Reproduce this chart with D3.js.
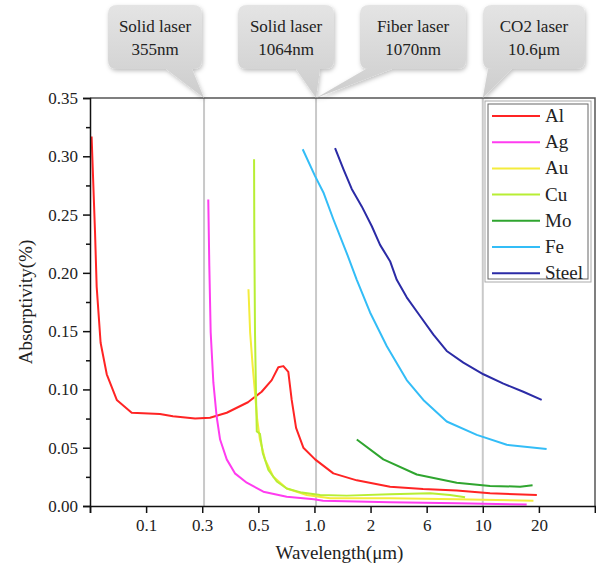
<!DOCTYPE html>
<html>
<head>
<meta charset="utf-8">
<script src="https://cdn.jsdelivr.net/npm/d3@7"></script>
<style>
  body { margin: 0; background: #fff; }
  text { font-family: "Liberation Serif", "Times New Roman", serif; fill: #222; }
</style>
</head>
<body>
<div id="chart"></div>
<script>
// axis breakpoints (µm); ticks are evenly spaced on the axis
var xBreaks = [0.05, 0.1, 0.3, 0.5, 1, 2, 6, 10, 20, 40];
var xLabels = ['', '0.1', '0.3', '0.5', '1.0', '2', '6', '10', '20', ''];
var yTicks = [0, 0.05, 0.10, 0.15, 0.20, 0.25, 0.30, 0.35];

var names = ['Al', 'Ag', 'Au', 'Cu', 'Mo', 'Fe', 'Steel'];
var colors = ['#ff2424', '#ff3cf0', '#f4ec3c', '#b8ee34', '#2fa52f', '#33bdf7', '#2b2ba6'];

var al = [[0.051, 0.317], [0.0532, 0.235], [0.0543, 0.188], [0.057, 0.140], [0.0615, 0.113],
    [0.0696, 0.091], [0.0837, 0.080], [0.131, 0.079], [0.169, 0.077], [0.261, 0.075],
    [0.322, 0.0757], [0.375, 0.080], [0.455, 0.089], [0.521, 0.098], [0.590, 0.108],
    [0.640, 0.119], [0.681, 0.120], [0.724, 0.115], [0.755, 0.091], [0.797, 0.067],
    [0.872, 0.050], [1.008, 0.040], [1.263, 0.028], [1.687, 0.022], [2.93, 0.0166],
    [5.59, 0.0146], [7.89, 0.0132], [10.94, 0.0109], [19.5, 0.0095]];
var ag = [[0.317, 0.263], [0.320, 0.206], [0.324, 0.149], [0.332, 0.106], [0.342, 0.077],
    [0.353, 0.057], [0.375, 0.040], [0.404, 0.028], [0.450, 0.020], [0.532, 0.0123],
    [0.710, 0.008], [0.993, 0.0058], [1.112, 0.0046], [2.93, 0.0032], [7.89, 0.0023],
    [17.2, 0.0012]];
var au = [[0.457, 0.186], [0.464, 0.149], [0.475, 0.120], [0.485, 0.097], [0.495, 0.074],
    [0.510, 0.057], [0.543, 0.040], [0.602, 0.025], [0.710, 0.015], [0.909, 0.0095],
    [1.213, 0.0066], [2.93, 0.0066], [7.89, 0.0058], [18.7, 0.0046]];
var cu = [[0.481, 0.2975], [0.482, 0.235], [0.485, 0.149], [0.490, 0.091], [0.493, 0.064],
    [0.510, 0.062], [0.528, 0.0455], [0.566, 0.031], [0.628, 0.021], [0.710, 0.015],
    [0.855, 0.0115], [1.073, 0.0095], [1.49, 0.0089], [2.93, 0.010], [6.19, 0.011],
    [7.42, 0.0095], [8.51, 0.0075]];
var mo = [[1.687, 0.057], [2.57, 0.040], [4.94, 0.027], [7.89, 0.020], [10.94, 0.0172],
    [15.86, 0.0166], [18.5, 0.0178]];
var fe = [[0.865, 0.306], [1.008, 0.283], [1.117, 0.269], [1.263, 0.246], [1.49, 0.217],
    [1.687, 0.194], [1.988, 0.166], [2.75, 0.137], [4.06, 0.108], [5.62, 0.091],
    [7.20, 0.0725], [9.47, 0.061], [13.45, 0.0525], [22.0, 0.0488]];
var steel = [[1.29, 0.307], [1.43, 0.289], [1.585, 0.272], [1.794, 0.257], [2.05, 0.240],
    [2.41, 0.224], [2.93, 0.210], [3.34, 0.194], [4.06, 0.179], [5.27, 0.163],
    [6.38, 0.147], [7.20, 0.133], [8.38, 0.123], [10.08, 0.113], [12.9, 0.105],
    [16.5, 0.098], [20.7, 0.091]];
var series = [al, ag, au, cu, mo, fe, steel];

// laser wavelength markers, as placed on the axis
var laserX = [0.305, 1.02, 10.0];
var calloutLines = [['Solid laser', '355nm'], ['Solid laser', '1064nm'], ['Fiber laser', '1070nm'], ['CO2 laser', '10.6\u03bcm']];
var calloutTarget = [0, 1, 1, 2];

(function () {
    var width = 596, height = 566;
    var pLeft = 90, pRight = 595, pTop = 98, pBottom = 506;
    var serif = '"Liberation Serif", "Times New Roman", serif';

    var svg = d3.select('#chart').append('svg')
        .attr('width', width)
        .attr('height', height)
        .attr('font-family', serif);

    var xLog = d3.scaleLinear()
        .domain(xBreaks.map(Math.log10))
        .range(xBreaks.map(function (d, i) { return pLeft + i * (pRight - pLeft) / (xBreaks.length - 1); }));
    function x (v) { return xLog(Math.log10(v)); }

    var y = d3.scaleLinear().domain([0, 0.35]).range([pBottom, pTop]);

    // grey laser lines
    svg.selectAll('line.laser')
        .data(laserX)
        .enter()
        .append('line')
        .attr('class', 'laser')
        .attr('x1', function (d) { return x(d); })
        .attr('x2', function (d) { return x(d); })
        .attr('y1', pTop)
        .attr('y2', pBottom)
        .attr('stroke', '#c9c9c9')
        .attr('stroke-width', 2);

    // frame top and right
    svg.append('path')
        .attr('d', 'M' + pLeft + ',' + pTop + 'H' + pRight + 'V' + pBottom)
        .attr('fill', 'none')
        .attr('stroke', '#555')
        .attr('stroke-width', 1.5);

    // curves
    var line = d3.line()
        .x(function (d) { return x(d[0]); })
        .y(function (d) { return y(d[1]); });

    svg.selectAll('path.curve')
        .data(series)
        .enter()
        .append('path')
        .attr('class', 'curve')
        .attr('d', line)
        .attr('fill', 'none')
        .attr('stroke', function (d, i) { return colors[i]; })
        .attr('stroke-width', 2)
        .attr('stroke-linejoin', 'round');

    // x axis
    var xAxis = d3.axisBottom(xLog)
        .tickValues(xBreaks.map(Math.log10))
        .tickFormat(function (d, i) { return xLabels[i]; })
        .tickSize(7)
        .tickPadding(6);
    var gx = svg.append('g')
        .attr('transform', 'translate(0,' + pBottom + ')')
        .call(xAxis)
        .attr('font-family', serif)
        .attr('font-size', 17);
    gx.select('.domain').attr('stroke', '#111').attr('stroke-width', 1.5);
    gx.selectAll('.tick line').attr('stroke', '#111').attr('stroke-width', 1.5);
    gx.selectAll('.tick text').attr('fill', '#222');

    // y axis with minor ticks
    var gyMinor = svg.append('g')
        .attr('transform', 'translate(' + pLeft + ',0)')
        .call(d3.axisLeft(y).tickValues(d3.range(0.025, 0.35, 0.05)).tickSize(4).tickFormat(''));
    gyMinor.select('.domain').remove();
    gyMinor.selectAll('.tick line').attr('stroke', '#111').attr('stroke-width', 1.5);

    var gy = svg.append('g')
        .attr('transform', 'translate(' + pLeft + ',0)')
        .call(d3.axisLeft(y).tickValues(yTicks).tickFormat(d3.format('.2f')).tickSize(7).tickPadding(5))
        .attr('font-family', serif)
        .attr('font-size', 17);
    gy.select('.domain').attr('stroke', '#111').attr('stroke-width', 1.5);
    gy.selectAll('.tick line').attr('stroke', '#111').attr('stroke-width', 1.5);
    gy.selectAll('.tick text').attr('fill', '#222');

    // axis titles
    svg.append('text')
        .attr('x', (pLeft + pRight) / 2 - 3)
        .attr('y', 559)
        .attr('text-anchor', 'middle')
        .attr('font-size', 19)
        .text('Wavelength(\u03bcm)');

    svg.append('text')
        .attr('transform', 'translate(32,' + (pTop + pBottom) / 2 + ') rotate(-90)')
        .attr('text-anchor', 'middle')
        .attr('font-size', 19)
        .text('Absorptivity(%)');

    // legend
    var legend = svg.append('g');
    legend.append('rect')
        .attr('x', 485).attr('y', 101).attr('width', 106).attr('height', 181)
        .attr('fill', '#fff').attr('stroke', '#aaa').attr('stroke-width', 1);
    legend.append('rect')
        .attr('x', 488).attr('y', 104).attr('width', 100).attr('height', 175)
        .attr('fill', '#fff').attr('stroke', '#666').attr('stroke-width', 1);

    var rows = legend.selectAll('g.row')
        .data(names)
        .enter()
        .append('g')
        .attr('class', 'row')
        .attr('transform', function (d, i) { return 'translate(0,' + (116 + i * 26.2) + ')'; });
    rows.append('line')
        .attr('x1', 492).attr('x2', 540)
        .attr('stroke', function (d, i) { return colors[i]; })
        .attr('stroke-width', 2);
    rows.append('text')
        .attr('x', 545)
        .attr('y', 6)
        .attr('font-size', 19)
        .text(function (d) { return d; });

    // callout boxes
    var boxes = [
        { x: 108, w: 94, base: [166, 192] },
        { x: 238, w: 96, base: [296, 320] },
        { x: 360, w: 106, base: [366, 392] },
        { x: 483, w: 102, base: [488, 512] }
    ];
    var defs = svg.append('defs');
    var grad = defs.append('linearGradient').attr('id', 'boxGrad')
        .attr('x1', 0).attr('y1', 0).attr('x2', 0).attr('y2', 1);
    grad.append('stop').attr('offset', '0%').attr('stop-color', '#e4e4e4');
    grad.append('stop').attr('offset', '100%').attr('stop-color', '#cdcdcd');
    var shadow = defs.append('filter').attr('id', 'shadow')
        .attr('x', '-20%').attr('y', '-20%').attr('width', '140%').attr('height', '140%');
    shadow.append('feDropShadow').attr('dx', 1).attr('dy', 2).attr('stdDeviation', 2)
        .attr('flood-color', '#000').attr('flood-opacity', 0.25);

    var call = svg.selectAll('g.callout')
        .data(boxes)
        .enter()
        .append('g')
        .attr('class', 'callout');

    call.append('path')
        .attr('d', function (d, i) {
            var tx = x(laserX[calloutTarget[i]]);
            var bx = d.x, bw = d.w, bt = 5, bb = 69, r = 9;
            return 'M' + (bx + r) + ',' + bt +
                'H' + (bx + bw - r) + 'Q' + (bx + bw) + ',' + bt + ' ' + (bx + bw) + ',' + (bt + r) +
                'V' + (bb - r) + 'Q' + (bx + bw) + ',' + bb + ' ' + (bx + bw - r) + ',' + bb +
                'H' + d.base[1] + 'L' + tx + ',' + pTop + 'L' + d.base[0] + ',' + bb +
                'H' + (bx + r) + 'Q' + bx + ',' + bb + ' ' + bx + ',' + (bb - r) +
                'V' + (bt + r) + 'Q' + bx + ',' + bt + ' ' + (bx + r) + ',' + bt + 'Z';
        })
        .attr('fill', 'url(#boxGrad)')
        .attr('filter', 'url(#shadow)');

    call.append('text')
        .attr('x', function (d) { return d.x + d.w / 2; })
        .attr('y', 32)
        .attr('text-anchor', 'middle')
        .attr('font-size', 17)
        .text(function (d, i) { return calloutLines[i][0]; });
    call.append('text')
        .attr('x', function (d) { return d.x + d.w / 2; })
        .attr('y', 55)
        .attr('text-anchor', 'middle')
        .attr('font-size', 17)
        .text(function (d, i) { return calloutLines[i][1]; });
})();
</script>
</body>
</html>
